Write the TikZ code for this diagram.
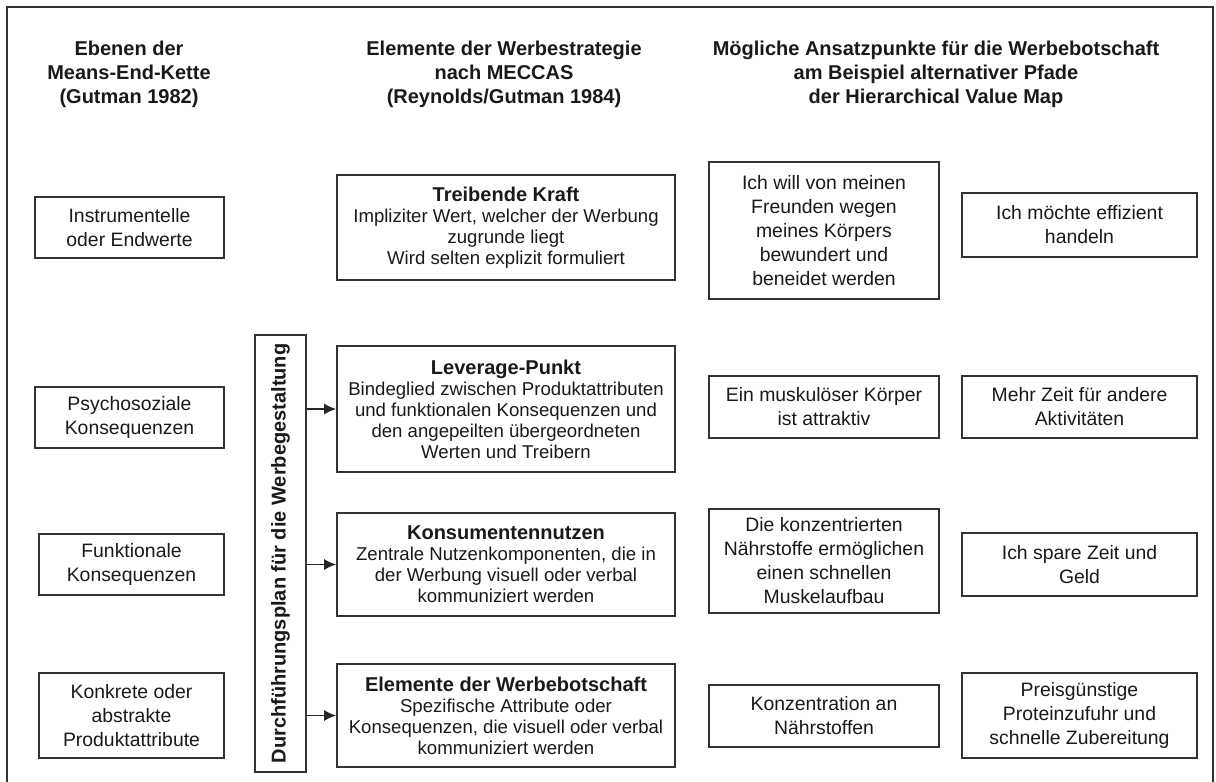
\documentclass[tikz,border=0pt]{standalone}
\usepackage{fontspec}
\setmainfont{Liberation Sans}
\usetikzlibrary{arrows.meta}
\begin{document}
\begin{tikzpicture}[x=0.5pt,y=-0.5pt,
 box/.style={draw=black!80,line width=0.8pt,inner sep=0pt,align=center,text=black!90,font=\fontsize{9.7}{12}\selectfont},
 mbox/.style={box,minimum width=169pt,font=\fontsize{9.3}{10.5}\selectfont},
 lbox/.style={box,minimum height=30.5pt},
 abox/.style={box,minimum width=115pt},
 bbox/.style={box,minimum width=117.5pt},
 head/.style={align=center,font=\bfseries\fontsize{10}{12}\selectfont,text=black!90},
 arr/.style={-{Latex[length=6pt,width=5.5pt]},line width=0.8pt,draw=black!85}]
\newcommand{\mtitle}[1]{{\bfseries\fontsize{10}{12}\selectfont #1}}
\useasboundingbox (0,0) rectangle (1216,782);
\draw[line width=1pt,black!80] (7,795) -- (7,7) -- (1212.5,7) -- (1212.5,795);

% headers
\node[head] (h1) at (129,74) {Ebenen der\\Means-End-Kette\\(Gutman 1982)};
\node[head] (h2) at (504,74) {Elemente der Werbestrategie\\nach MECCAS\\(Reynolds/Gutman 1984)};
\node[head] (h3) at (936,74) {Mögliche Ansatzpunkte für die Werbebotschaft\\am Beispiel alternativer Pfade\\der Hierarchical Value Map};

% left column
\node[lbox,minimum width=94.5pt] (l1) at (129.5,227.5) {Instrumentelle\\oder Endwerte};
\node[lbox,minimum width=94.5pt] (l2) at (129.5,417.5) {Psychosoziale\\Konsequenzen};
\node[lbox,minimum width=92.5pt] (l3) at (131.5,564.5) {Funktionale\\Konsequenzen};
\node[box,minimum width=92.5pt,minimum height=42.5pt] (l4) at (131.5,715.5) {Konkrete oder\\abstrakte\\Produktattribute};

% vertical bar
\node[box,minimum width=25.5pt,minimum height=218.5pt] (bar) at (280.5,553.5) {};
\node[rotate=90,font=\bfseries\fontsize{10}{12}\selectfont,text=black!90] (bartext) at (bar.center) {Durchführungsplan für die Werbegestaltung};

% middle column
\node[mbox,minimum height=52.5pt] (m1) at (506,227.5) {\mtitle{Treibende Kraft}\\Impliziter Wert, welcher der Werbung\\zugrunde liegt\\Wird selten explizit formuliert};
\node[mbox,minimum height=63pt] (m2) at (506,409) {\mtitle{Leverage-Punkt}\\Bindeglied zwischen Produktattributen\\und funktionalen Konsequenzen und\\den angepeilten übergeordneten\\Werten und Treibern};
\node[mbox,minimum height=51.5pt] (m3) at (506,564.5) {\mtitle{Konsumentennutzen}\\Zentrale Nutzenkomponenten, die in\\der Werbung visuell oder verbal\\kommuniziert werden};
\node[mbox,minimum height=51.5pt] (m4) at (506,715.5) {\mtitle{Elemente der Werbebotschaft}\\Spezifische Attribute oder\\Konsequenzen, die visuell oder verbal\\kommuniziert werden};

% arrows
\draw[arr] (bar.east |- m2.west) -- (m2.west);
\draw[arr] (bar.east |- m3.west) -- (m3.west);
\draw[arr] (bar.east |- m4.west) -- (m4.west);

% right columns
\node[abox,minimum height=68.5pt] (a1) at (824,230.5) {Ich will von meinen\\Freunden wegen\\meines Körpers\\bewundert und\\beneidet werden};
\node[bbox,minimum height=32pt] (b1) at (1079.5,225) {Ich möchte effizient\\handeln};
\node[abox,minimum height=31pt] (a2) at (824,407) {Ein muskulöser Körper\\ist attraktiv};
\node[bbox,minimum height=31pt] (b2) at (1079.5,407) {Mehr Zeit für andere\\Aktivitäten};
\node[abox,minimum height=52pt] (a3) at (824,561) {Die konzentrierten\\Nährstoffe ermöglichen\\einen schnellen\\Muskelaufbau};
\node[bbox,minimum height=31.5pt] (b3) at (1079.5,564.5) {Ich spare Zeit und\\Geld};
\node[abox,minimum height=31pt] (a4) at (824,716) {Konzentration an\\Nährstoffen};
\node[bbox,minimum height=42.5pt] (b4) at (1079.5,715.5) {Preisgünstige\\Proteinzufuhr und\\schnelle Zubereitung};
\end{tikzpicture}
\end{document}
